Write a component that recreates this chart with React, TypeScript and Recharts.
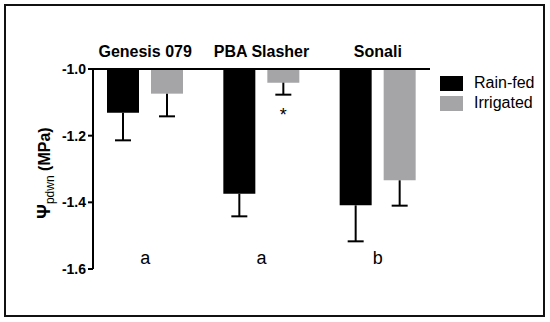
import React from "react";
import { BarChart, Bar, XAxis, YAxis, Legend, ReferenceDot, LabelList, Rectangle } from "recharts";

const cultivars = ["Genesis 079", "PBA Slasher", "Sonali"];
const seriesNames = ["Rain-fed", "Irrigated"];
const rainFed = [-1.131, -1.374, -1.409];
const rainFedErr = [0.083, 0.068, 0.108];
const irrigated = [-1.074, -1.041, -1.334];
const irrigatedErr = [0.068, 0.036, 0.076];
const groupLetters = ["a", "a", "b"];
const significance = ["", "*", ""];
const yTicks = [-1.0, -1.2, -1.4, -1.6];

const BASE = -1.0;
const FONT = "'Liberation Sans', Arial, sans-serif";

const data = cultivars.map((name, i) => ({
  name,
  rainFed: rainFed[i],
  rainFedErr: rainFedErr[i],
  irrigated: irrigated[i],
  irrigatedErr: irrigatedErr[i],
  sig: significance[i],
}));

// bar + one-sided (downward) error bar
const barWithError = (errKey: string) => (props: any) => {
  const { x, y, width, height, fill, payload, value } = props;
  const top = Math.min(y, y + height);
  const bottom = Math.max(y, y + height);
  const v = Array.isArray(value) ? value[1] : value;
  const pxPerUnit = Math.abs(height) / Math.abs(v - BASE || 1);
  const errPx = payload[errKey] * pxPerUnit;
  const cx = x + width / 2;
  return (
    <g>
      <Rectangle x={x} y={top} width={width} height={bottom - top} fill={fill} />
      <line x1={cx} x2={cx} y1={bottom} y2={bottom + errPx} stroke="#000" strokeWidth={2} />
      <line x1={cx - 8} x2={cx + 8} y1={bottom + errPx} y2={bottom + errPx} stroke="#000" strokeWidth={2} />
    </g>
  );
};

const CategoryTick = (props: any) => {
  const { x, payload } = props;
  return (
    <text x={x} y={57} textAnchor="middle" fontFamily={FONT} fontWeight="bold" fontSize={16} fill="#000">
      {payload.value}
    </text>
  );
};

const YLabel = (props: any) => {
  const vb = props.viewBox;
  const cx = 50;
  const cy = vb.y + vb.height / 2 + 4;
  return (
    <text
      x={cx}
      y={cy}
      textAnchor="middle"
      transform={`rotate(-90, ${cx}, ${cy})`}
      fontFamily={FONT}
      fill="#000"
    >
      <tspan fontWeight="bold" fontSize={18}>Ψ</tspan>
      <tspan fontSize={12} dy={4}>pdwn</tspan>
      <tspan fontWeight="bold" fontSize={16} dy={-4}> (MPa)</tspan>
    </text>
  );
};

const LegendBox = (props: any) => {
  const items = [...(props.payload || [])].sort(
    (a: any, b: any) => seriesNames.indexOf(a.value) - seriesNames.indexOf(b.value)
  );
  return (
    <div style={{ fontFamily: FONT, fontSize: 16, color: "#000" }}>
      {items.map((it: any) => (
        <div key={it.value} style={{ display: "flex", alignItems: "center", height: 20 }}>
          <span style={{ display: "inline-block", width: 23, height: 15, background: it.color, marginRight: 11 }} />
          <span>{it.value}</span>
        </div>
      ))}
    </div>
  );
};

export default function App() {
  return (
    <div style={{ position: "fixed", left: 0, top: 0, width: 550, height: 322, background: "#fff" }}>
      <div
        style={{
          position: "absolute",
          left: 4,
          top: 4,
          width: 541,
          height: 313,
          border: "2px solid #111",
          boxSizing: "border-box",
        }}
      />
      <div style={{ position: "absolute", left: 0, top: 0 }}>
        <BarChart
          width={550}
          height={322}
          data={data}
          margin={{ top: 40, right: 120, bottom: 53, left: 33 }}
          barSize={32}
          barGap={12}
        >
          <XAxis
            dataKey="name"
            orientation="top"
            height={29}
            tickLine={false}
            tick={<CategoryTick />}
            axisLine={{ stroke: "#000", strokeWidth: 2 }}
            padding={{ left: -6, right: -6 }}
          />
          <YAxis
            domain={[-1.6, -1.0]}
            ticks={yTicks}
            width={60}
            tickFormatter={(v: number) => v.toFixed(1)}
            tick={{ fill: "#000", fontFamily: FONT, fontWeight: "bold", fontSize: 14 }}
            tickSize={5}
            tickMargin={2}
            tickLine={{ stroke: "#000", strokeWidth: 2 }}
            axisLine={{ stroke: "#000", strokeWidth: 2 }}
            allowDataOverflow
            label={<YLabel />}
          />
          <Legend
            layout="vertical"
            align="center"
            verticalAlign="middle"
            content={<LegendBox />}
            wrapperStyle={{ position: "absolute", left: 440, top: 73, width: 110 }}
          />
          <Bar dataKey="rainFed" name={seriesNames[0]} fill="#000" isAnimationActive={false} shape={barWithError("rainFedErr")} />
          <Bar dataKey="irrigated" name={seriesNames[1]} fill="#a5a5a8" isAnimationActive={false} shape={barWithError("irrigatedErr")}>
            <LabelList
              dataKey="sig"
              content={(p: any) => {
                if (!p.value) return null;
                const bottom = Math.max(p.y, p.y + p.height);
                return (
                  <text x={p.x + p.width / 2} y={bottom + 38} textAnchor="middle" fontFamily={FONT} fontSize={18} fill="#000">
                    {p.value}
                  </text>
                );
              }}
            />
          </Bar>
          {cultivars.map((c, i) => (
            <ReferenceDot
              key={c}
              x={c}
              y={-1.566}
              r={0}
              stroke="none"
              fill="none"
              label={{ value: groupLetters[i], position: "center", fill: "#000", fontFamily: FONT, fontSize: 18 }}
            />
          ))}
        </BarChart>
      </div>
    </div>
  );
}
